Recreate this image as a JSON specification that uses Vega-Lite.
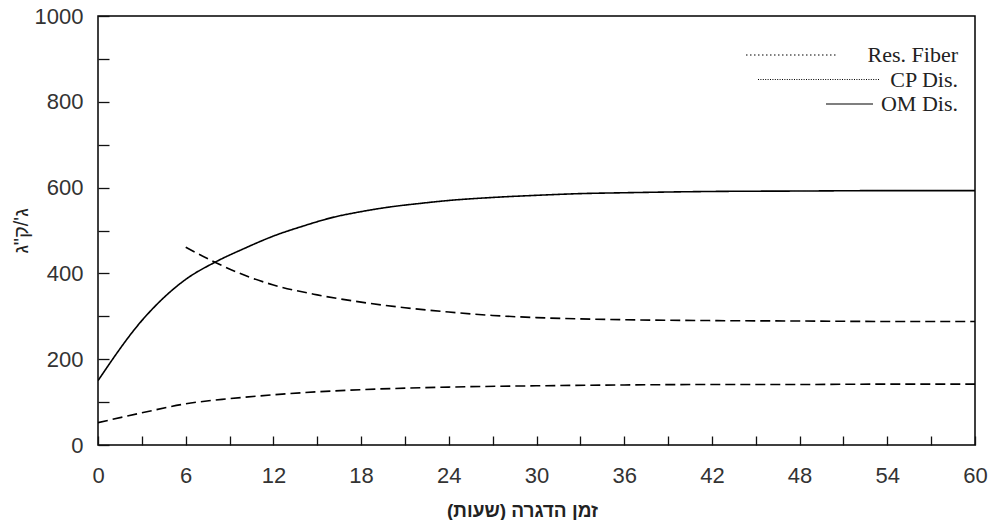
{
  "$schema": "https://vega.github.io/schema/vega-lite/v6.json",
  "width": 877,
  "height": 429,
  "autosize": "none",
  "padding": {"left": 98, "top": 16, "right": 18, "bottom": 75},
  "background": "white",
  "config": {
    "view": {"stroke": "black", "strokeWidth": 1.5},
    "axis": {"grid": false, "domain": false, "labelFont": "Liberation Sans", "labelColor": "#333", "titleFont": "Liberation Sans", "titleColor": "#222", "tickColor": "#111", "tickWidth": 1.3}
  },
  "data": {
    "values": [
      {"hour": 0, "value": 150, "series": "OM Dis."},
      {"hour": 3, "value": 290, "series": "OM Dis."},
      {"hour": 6, "value": 386, "series": "OM Dis."},
      {"hour": 8, "value": 426, "series": "OM Dis."},
      {"hour": 10, "value": 458, "series": "OM Dis."},
      {"hour": 12, "value": 487, "series": "OM Dis."},
      {"hour": 14, "value": 510, "series": "OM Dis."},
      {"hour": 16, "value": 530, "series": "OM Dis."},
      {"hour": 18, "value": 544, "series": "OM Dis."},
      {"hour": 20, "value": 555, "series": "OM Dis."},
      {"hour": 22, "value": 563, "series": "OM Dis."},
      {"hour": 24, "value": 570, "series": "OM Dis."},
      {"hour": 27, "value": 577, "series": "OM Dis."},
      {"hour": 30, "value": 582, "series": "OM Dis."},
      {"hour": 33, "value": 586, "series": "OM Dis."},
      {"hour": 36, "value": 588, "series": "OM Dis."},
      {"hour": 42, "value": 591, "series": "OM Dis."},
      {"hour": 48, "value": 592, "series": "OM Dis."},
      {"hour": 54, "value": 593, "series": "OM Dis."},
      {"hour": 60, "value": 593, "series": "OM Dis."},
      {"hour": 6, "value": 461, "series": "Res. Fiber"},
      {"hour": 8, "value": 426, "series": "Res. Fiber"},
      {"hour": 10, "value": 396, "series": "Res. Fiber"},
      {"hour": 12, "value": 373, "series": "Res. Fiber"},
      {"hour": 15, "value": 350, "series": "Res. Fiber"},
      {"hour": 18, "value": 333, "series": "Res. Fiber"},
      {"hour": 21, "value": 320, "series": "Res. Fiber"},
      {"hour": 24, "value": 310, "series": "Res. Fiber"},
      {"hour": 27, "value": 302, "series": "Res. Fiber"},
      {"hour": 30, "value": 297, "series": "Res. Fiber"},
      {"hour": 36, "value": 292, "series": "Res. Fiber"},
      {"hour": 42, "value": 290, "series": "Res. Fiber"},
      {"hour": 48, "value": 289, "series": "Res. Fiber"},
      {"hour": 54, "value": 288, "series": "Res. Fiber"},
      {"hour": 60, "value": 288, "series": "Res. Fiber"},
      {"hour": 0, "value": 52, "series": "CP Dis."},
      {"hour": 3, "value": 75, "series": "CP Dis."},
      {"hour": 6, "value": 96, "series": "CP Dis."},
      {"hour": 9, "value": 108, "series": "CP Dis."},
      {"hour": 12, "value": 117, "series": "CP Dis."},
      {"hour": 15, "value": 124, "series": "CP Dis."},
      {"hour": 18, "value": 129, "series": "CP Dis."},
      {"hour": 24, "value": 135, "series": "CP Dis."},
      {"hour": 30, "value": 138, "series": "CP Dis."},
      {"hour": 36, "value": 140, "series": "CP Dis."},
      {"hour": 42, "value": 141, "series": "CP Dis."},
      {"hour": 48, "value": 141, "series": "CP Dis."},
      {"hour": 54, "value": 142, "series": "CP Dis."},
      {"hour": 60, "value": 142, "series": "CP Dis."}
    ]
  },
  "encoding": {
    "x": {
      "field": "hour", "type": "quantitative",
      "scale": {"domain": [0, 60], "nice": false},
      "axis": {
        "values": [0,3,6,9,12,15,18,21,24,27,30,33,36,39,42,45,48,51,54,57,60],
        "labelExpr": "datum.value % 6 === 0 ? datum.label : ''",
        "tickSize": -9, "labelPadding": 29, "labelFontSize": 22, "labelFlush": false,
        "title": "זמן הדגרה (שעות)", "titleFontSize": 19, "titleFontWeight": "bold", "titlePadding": 15, "titleX": 424
      }
    },
    "y": {
      "field": "value", "type": "quantitative",
      "scale": {"domain": [0, 1000], "nice": false},
      "axis": {
        "values": [0,100,200,300,400,500,600,700,800,900,1000],
        "labelExpr": "datum.value % 200 === 0 ? datum.label : ''",
        "format": "d",
        "tickSize": -11, "labelPadding": 26, "labelFontSize": 22, "labelFlush": false,
        "title": "ג'/ק\"ג", "titleFontSize": 20, "titleFontWeight": "normal", "titlePadding": 3
      }
    }
  },
  "layer": [
    {
      "mark": {"type": "line", "color": "black", "strokeWidth": 1.6, "interpolate": "monotone", "clip": true},
      "encoding": {
        "strokeDash": {
          "field": "series", "type": "nominal",
          "scale": {"domain": ["Res. Fiber", "CP Dis.", "OM Dis."], "range": [[10, 5], [10, 5], [1, 0]]},
          "legend": null
        }
      }
    },
    {
      "mark": {"type": "line", "color": "black", "opacity": 0, "strokeWidth": 1.2, "interpolate": "monotone", "clip": true},
      "encoding": {
        "strokeDash": {
          "field": "series", "type": "nominal",
          "scale": {"domain": ["Res. Fiber", "CP Dis.", "OM Dis."], "range": [[1.5, 2.5], [1, 1.4], [1, 0]]},
          "legend": {
            "title": null, "orient": "none", "legendX": 732, "legendY": 28,
            "symbolType": "M-1,0H1", "symbolSize": 400, "symbolStrokeWidth": 1.2, "symbolStrokeColor": "black", "symbolOpacity": 1,
            "labelFont": "Liberation Serif", "labelFontSize": 22, "labelColor": "#222", "labelOffset": 106, "labelAlign": "right", "rowPadding": 2.5,
            "encode": {"symbols": {"update": {
              "shape": {"signal": "datum.value === 'Res. Fiber' ? 'M-9.5,0H-0.4' : datum.value === 'CP Dis.' ? 'M-8.3,0H3.8' : 'M-1.5,0H3.2'"},
              "opacity": {"value": 1}
            }}}
          }
        }
      }
    }
  ],
  "resolve": {"scale": {"strokeDash": "independent"}, "legend": {"strokeDash": "independent"}}
}
